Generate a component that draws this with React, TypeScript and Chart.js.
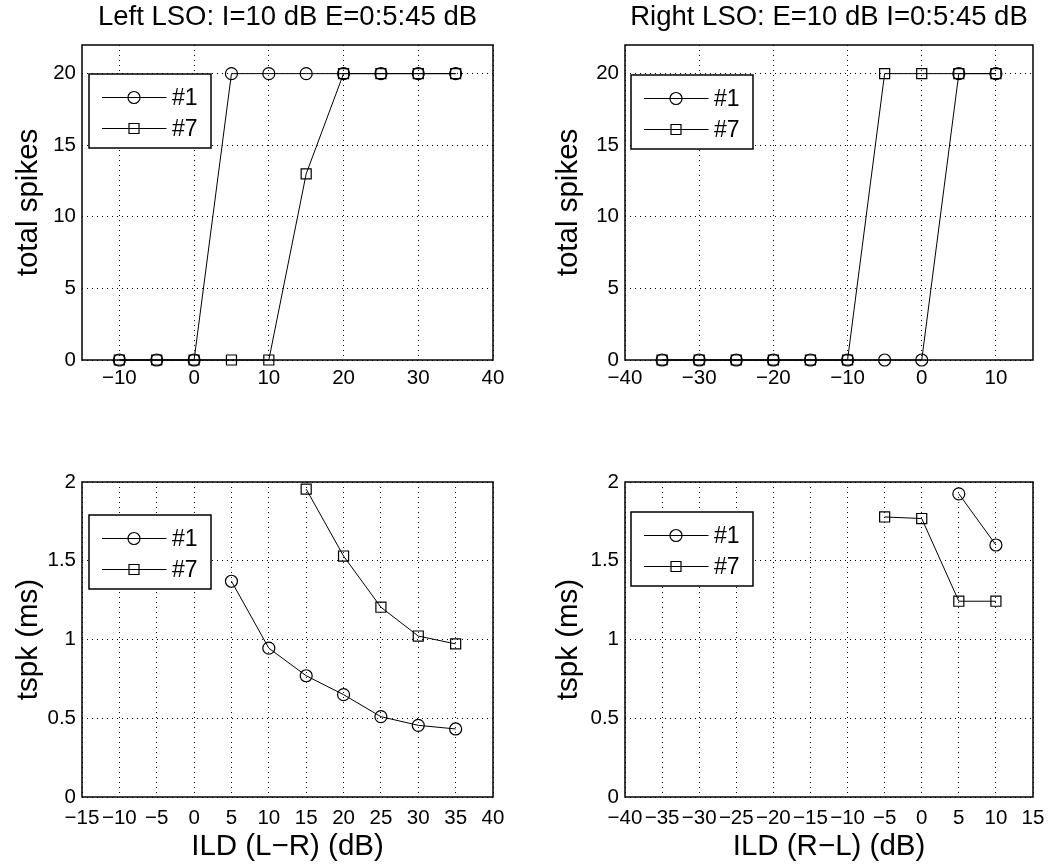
import React, { useEffect, useRef } from "react";
import { Chart, registerables } from "chart.js";

Chart.register(...registerables);

// ---------- data ----------
const seriesNames = ["#1", "#7"];
const panelTitles = ["Left LSO: I=10 dB E=0:5:45 dB", "Right LSO: E=10 dB I=0:5:45 dB"];
const xAxisLabels = ["ILD (L\u2212R) (dB)", "ILD (R\u2212L) (dB)"];
const yAxisLabels = ["total spikes", "tspk (ms)"];

// top-left: total spikes vs ILD (L-R)
const spikesLeftX = [-10, -5, 0, 5, 10, 15, 20, 25, 30, 35];
const spikesLeft1 = [0, 0, 0, 20, 20, 20, 20, 20, 20, 20];
const spikesLeft7 = [0, 0, 0, 0, 0, 13, 20, 20, 20, 20];

// top-right: total spikes vs ILD (R-L)
const spikesRightX = [-35, -30, -25, -20, -15, -10, -5, 0, 5, 10];
const spikesRight1 = [0, 0, 0, 0, 0, 0, 0, 0, 20, 20];
const spikesRight7 = [0, 0, 0, 0, 0, 0, 20, 20, 20, 20];

// bottom-left: tspk vs ILD (L-R)
const tspkLeftX1 = [5, 10, 15, 20, 25, 30, 35];
const tspkLeft1 = [1.37, 0.945, 0.77, 0.65, 0.51, 0.455, 0.432];
const tspkLeftX7 = [15, 20, 25, 30, 35];
const tspkLeft7 = [1.955, 1.53, 1.205, 1.022, 0.972];

// bottom-right: tspk vs ILD (R-L)
const tspkRightX1 = [5, 10];
const tspkRight1 = [1.925, 1.6];
const tspkRightX7 = [-5, 0, 5, 10];
const tspkRight7 = [1.778, 1.768, 1.243, 1.243];

// tick values
const xTicksTopLeft = [-10, 0, 10, 20, 30, 40];
const xTicksTopRight = [-40, -30, -20, -10, 0, 10];
const xTicksBottomLeft = [-15, -10, -5, 0, 5, 10, 15, 20, 25, 30, 35, 40];
const xTicksBottomRight = [-40, -35, -30, -25, -20, -15, -10, -5, 0, 5, 10, 15];
const yTicksSpikes = [0, 5, 10, 15, 20];
const yTicksTspk = [0, 0.5, 1, 1.5, 2];

// ---------- styling ----------
const FONT = "'Liberation Sans', Arial, Helvetica, sans-serif";
Chart.defaults.font.family = FONT;
Chart.defaults.color = "#000";

const TICK_SIZE = 20.5;
const LABEL_SIZE = 29.5;
const TITLE_SIZE = 27.5;
const LEGEND_SIZE = 23;

const fmt = (v: number | string) => String(v).replace("-", "\u2212");
const pts = (xs: number[], ys: number[]) => xs.map((x, i) => ({ x, y: ys[i] }));

const framePlugin = {
  id: "frame",
  beforeDatasetsDraw(chart: any) {
    const { ctx, chartArea: a } = chart;
    ctx.save();
    ctx.strokeStyle = "#000";
    ctx.lineWidth = 1.5;
    ctx.strokeRect(a.left, a.top, a.right - a.left, a.bottom - a.top);
    ctx.restore();
  },
};

const insetLegendPlugin = {
  id: "insetLegend",
  afterDatasetsDraw(chart: any, _args: any, opts: any) {
    const { ctx, chartArea: a } = chart;
    const x0 = a.left + opts.dx;
    const y0 = a.top + opts.dy;
    const w = 122;
    const h = 74;
    ctx.save();
    ctx.fillStyle = "#fff";
    ctx.fillRect(x0, y0, w, h);
    ctx.strokeStyle = "#000";
    ctx.lineWidth = 1.5;
    ctx.strokeRect(x0, y0, w, h);
    chart.data.datasets.forEach((ds: any, i: number) => {
      const cy = y0 + 23.5 + i * 31;
      ctx.lineWidth = 1;
      ctx.strokeStyle = "#000";
      ctx.beginPath();
      ctx.moveTo(x0 + 13, cy);
      ctx.lineTo(x0 + 77.5, cy);
      ctx.stroke();
      const mx = x0 + 45;
      ctx.lineWidth = 1.2;
      ctx.beginPath();
      if (ds.pointStyle === "rect") {
        ctx.rect(mx - 5, cy - 5, 10, 10);
      } else {
        ctx.arc(mx, cy, 6, 0, Math.PI * 2);
      }
      ctx.stroke();
      ctx.fillStyle = "#000";
      ctx.font = `${LEGEND_SIZE}px ${FONT}`;
      ctx.textAlign = "left";
      ctx.textBaseline = "middle";
      ctx.fillText(ds.label, x0 + 83, cy + 1);
    });
    ctx.restore();
  },
};

type PanelSpec = {
  x1: number[]; y1: number[]; x7: number[]; y7: number[];
  xMin: number; xMax: number; xTicks: number[];
  yMin: number; yMax: number; yTicks: number[];
  title?: string; xLabel?: string; yLabel: string;
  yWidth: number; xHeight: number;
  pad: { left: number; right: number; top: number; bottom: number };
  yTitlePad: number; xTickPad: number;
  legendDx: number; legendDy: number;
};

function buildConfig(s: PanelSpec): any {
  const dsBase = {
    borderColor: "#000",
    borderWidth: 1,
    pointBorderColor: "#000",
    pointBackgroundColor: "rgba(0,0,0,0)",
    pointBorderWidth: 1.2,
    tension: 0,
    clip: false,
  };
  return {
    type: "line",
    data: {
      datasets: [
        { ...dsBase, label: seriesNames[0], data: pts(s.x1, s.y1), pointStyle: "circle", pointRadius: 6 },
        { ...dsBase, label: seriesNames[1], data: pts(s.x7, s.y7), pointStyle: "rect", pointRadius: 7.1 },
      ],
    },
    options: {
      responsive: false,
      animation: false,
      events: [],
      layout: { padding: s.pad },
      plugins: {
        legend: { display: false },
        tooltip: { enabled: false },
        title: s.title
          ? {
              display: true,
              text: s.title,
              fullSize: false,
              color: "#000",
              font: { size: TITLE_SIZE, weight: "normal", family: FONT },
              padding: { top: 0.5, bottom: 11.5 },
            }
          : { display: false },
        insetLegend: { dx: s.legendDx, dy: s.legendDy },
      },
      scales: {
        x: {
          type: "linear",
          min: s.xMin,
          max: s.xMax,
          afterBuildTicks: (sc: any) => {
            sc.ticks = s.xTicks.map((v) => ({ value: v }));
          },
          afterFit: (sc: any) => {
            sc.height = s.xHeight;
          },
          ticks: {
            autoSkip: false,
            maxRotation: 0,
            minRotation: 0,
            padding: s.xTickPad,
            color: "#000",
            font: { size: TICK_SIZE },
            callback: (v: number) => fmt(v),
          },
          grid: { color: "#000", lineWidth: 1, drawTicks: false },
          border: { display: false, dash: [1, 4] },
          title: s.xLabel
            ? { display: true, text: s.xLabel, color: "#000", font: { size: LABEL_SIZE }, padding: { top: 0, bottom: 0.5 } }
            : { display: false },
        },
        y: {
          type: "linear",
          min: s.yMin,
          max: s.yMax,
          afterBuildTicks: (sc: any) => {
            sc.ticks = s.yTicks.map((v) => ({ value: v }));
          },
          afterFit: (sc: any) => {
            sc.width = s.yWidth;
          },
          ticks: {
            autoSkip: false,
            padding: 6,
            color: "#000",
            font: { size: TICK_SIZE },
            callback: (v: number) => fmt(v),
          },
          grid: { color: "#000", lineWidth: 1, drawTicks: false },
          border: { display: false, dash: [1, 4] },
          title: { display: true, text: s.yLabel, color: "#000", font: { size: LABEL_SIZE }, padding: { top: s.yTitlePad, bottom: 0 } },
        },
      },
    },
    plugins: [framePlugin, insetLegendPlugin],
  };
}

const W = 527;
const H_TOP = 432;
const H_BOTTOM = 433;

const panels: { left: number; top: number; w: number; h: number; spec: PanelSpec }[] = [
  {
    left: 0, top: 0, w: W, h: H_TOP,
    spec: {
      x1: spikesLeftX, y1: spikesLeft1, x7: spikesLeftX, y7: spikesLeft7,
      xMin: -15, xMax: 40, xTicks: xTicksTopLeft, yMin: 0, yMax: 22, yTicks: yTicksSpikes,
      title: panelTitles[0], yLabel: yAxisLabels[0],
      yWidth: 82, xHeight: 72, pad: { left: 0, right: 34, top: 0, bottom: 0 },
      yTitlePad: 10.9, xTickPad: 6.5, legendDx: 7, legendDy: 29,
    },
  },
  {
    left: W, top: 0, w: W, h: H_TOP,
    spec: {
      x1: spikesRightX, y1: spikesRight1, x7: spikesRightX, y7: spikesRight7,
      xMin: -40, xMax: 15, xTicks: xTicksTopRight, yMin: 0, yMax: 22, yTicks: yTicksSpikes,
      title: panelTitles[1], yLabel: yAxisLabels[0],
      yWidth: 98, xHeight: 72, pad: { left: 0, right: 21, top: 0, bottom: 0 },
      yTitlePad: 23.9, xTickPad: 6.5, legendDx: 6, legendDy: 30,
    },
  },
  {
    left: 0, top: H_TOP, w: W, h: H_BOTTOM,
    spec: {
      x1: tspkLeftX1, y1: tspkLeft1, x7: tspkLeftX7, y7: tspkLeft7,
      xMin: -15, xMax: 40, xTicks: xTicksBottomLeft, yMin: 0, yMax: 2, yTicks: yTicksTspk,
      xLabel: xAxisLabels[0], yLabel: yAxisLabels[1],
      yWidth: 82, xHeight: 68, pad: { left: 0, right: 34, top: 50, bottom: 0 },
      yTitlePad: 10.9, xTickPad: 9, legendDx: 7, legendDy: 33,
    },
  },
  {
    left: W, top: H_TOP, w: W, h: H_BOTTOM,
    spec: {
      x1: tspkRightX1, y1: tspkRight1, x7: tspkRightX7, y7: tspkRight7,
      xMin: -40, xMax: 15, xTicks: xTicksBottomRight, yMin: 0, yMax: 2, yTicks: yTicksTspk,
      xLabel: xAxisLabels[1], yLabel: yAxisLabels[1],
      yWidth: 98, xHeight: 68, pad: { left: 0, right: 21, top: 50, bottom: 0 },
      yTitlePad: 23.9, xTickPad: 9, legendDx: 6, legendDy: 30,
    },
  },
];

function Panel({ left, top, w, h, spec }: { left: number; top: number; w: number; h: number; spec: PanelSpec }) {
  const ref = useRef<HTMLCanvasElement>(null);
  useEffect(() => {
    const chart = new Chart(ref.current as HTMLCanvasElement, buildConfig(spec));
    return () => chart.destroy();
  }, []);
  return (
    <div style={{ position: "absolute", left, top, width: w, height: h }}>
      <canvas ref={ref} width={w} height={h} style={{ width: w, height: h, display: "block" }} />
    </div>
  );
}

export default function App() {
  return (
    <div style={{ position: "absolute", left: 0, top: 0, width: 1054, height: 865, background: "#fff", overflow: "hidden" }}>
      {panels.map((p, i) => (
        <Panel key={i} {...p} />
      ))}
    </div>
  );
}
